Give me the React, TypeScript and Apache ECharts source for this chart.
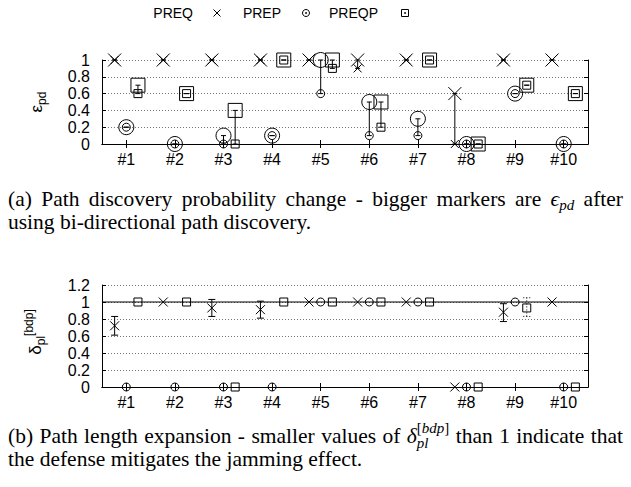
import React, { useEffect, useRef } from 'react';
import * as echarts from 'echarts';

// ---------------- data ----------------
const categories = ['#1', '#2', '#3', '#4', '#5', '#6', '#7', '#8', '#9', '#10'];
const seriesNames = ['PREQ', 'PREP', 'PREQP'];

// (a) path discovery probability eps_pd: small markers = before, big markers = after bi-directional path discovery
const pdPreqBefore = [1, 1, 1, 1, 1, 0.9, 1, 0, 1, 1];
const pdPreqAfter = [1, 1, 1, 1, 1, 1, 1, 0.6, 1, 1];
const pdPrepBefore = [0.2, 0, 0, 0.1, 0.6, 0.1, 0.1, 0, 0.6, 0];
const pdPrepAfter = [0.2, 0, 0.1, 0.1, 1, 0.5, 0.3, 0, 0.6, 0];
const pdPreqpBefore = [0.6, 0.6, 0, 1, 0.9, 0.2, 1, 0, 0.7, 0.6];
const pdPreqpAfter = [0.7, 0.6, 0.4, 1, 1, 0.5, 1, 0, 0.7, 0.6];

// (b) path length expansion delta_pl^[bdp]: value, error bar low, error bar high
const plPreq = [0.72, 1, 0.93, 0.91, 1, 1, 1, 0, 0.88, 1];
const plPreqLow = [0.61, 1, 0.83, 0.81, 1, 1, 1, 0, 0.77, 1];
const plPreqHigh = [0.83, 1, 1.03, 1.01, 1, 1, 1, 0, 0.98, 1];
const plPrep = [0, 0, 0, 0, 1, 1, 1, 0, 1, 0];
const plPreqp = [1, 1, 0, 1, 1, 1, 1, 0, 0.93, 0];
const plPreqpLow = [1, 1, 0, 1, 1, 1, 1, 0, 0.83, 0];
const plPreqpHigh = [1, 1, 0, 1, 1, 1, 1, 0, 1.05, 0];
const plReference = 1;

const pdAxis = { min: 0, max: 1, step: 0.2 };
const plAxis = { min: 0, max: 1.2, step: 0.2 };

const captionA = ['(a) Path discovery probability change - bigger markers are $EPS after', 'using bi-directional path discovery.'];
const captionB = ['(b) Path length expansion - smaller values of $DELTA than 1 indicate that', 'the defense mitigates the jamming effect.'];

// ---------------- style ----------------
type Kind = 'x' | 'circle' | 'square';
const KINDS: Kind[] = ['x', 'circle', 'square'];
const OFFSETS = [-0.24, 0, 0.24];
const SANS = '"Liberation Sans", Arial, Helvetica, sans-serif';
const SERIF = '"Liberation Serif", "Times New Roman", "DejaVu Serif", serif';
const INK = '#000';
const SMALL: Record<Kind, number> = { x: 8, circle: 8, square: 8 };
const BIG: Record<Kind, number> = { x: 13, circle: 15, square: 14 };
const PLSIZE: Record<Kind, number> = { x: 9, circle: 8, square: 8 };
const CAP = 21.5;
const CAPSUB = 15;

function markerEls(kind: Kind, cx: number, cy: number, size: number): any[] {
  const h = size / 2;
  const style = { stroke: INK, fill: 'none', lineWidth: 1 };
  if (kind === 'x')
    return [
      { type: 'line', shape: { x1: cx - h, y1: cy - h, x2: cx + h, y2: cy + h }, style },
      { type: 'line', shape: { x1: cx - h, y1: cy + h, x2: cx + h, y2: cy - h }, style },
    ];
  if (kind === 'circle') return [{ type: 'circle', shape: { cx, cy, r: h }, style }];
  return [{ type: 'rect', shape: { x: cx - h, y: cy - h, width: size, height: size }, style }];
}
const hline = (x: number, y: number, half: number, dash?: number[]) => ({
  type: 'line',
  shape: { x1: x - half, y1: y, x2: x + half, y2: y },
  style: { stroke: INK, lineWidth: 1, lineDash: dash },
});
const vline = (x: number, y1: number, y2: number, dash?: number[]) => ({
  type: 'line',
  shape: { x1: x, y1, x2: x, y2 },
  style: { stroke: INK, lineWidth: 1, lineDash: dash },
});

function pdRenderer(kind: Kind, offset: number) {
  return (params: any, api: any) => {
    const i = api.value(0);
    const ps = api.coord([i, api.value(1)]);
    const pb = api.coord([i, api.value(2)]);
    const band = api.size([1, 0])[0];
    const x = ps[0] + offset * band;
    const children: any[] = [];
    if (Math.abs(ps[1] - pb[1]) > 0.5) children.push(vline(x, ps[1], pb[1]));
    children.push(hline(x, ps[1], 2.5));
    children.push(hline(x, pb[1], 2.5));
    children.push(...markerEls(kind, x, ps[1], SMALL[kind]));
    children.push(...markerEls(kind, x, pb[1], BIG[kind]));
    return { type: 'group', children };
  };
}

function plRenderer(kind: Kind, offset: number, dotted: boolean) {
  return (params: any, api: any) => {
    const i = api.value(0);
    const pv = api.coord([i, api.value(1)]);
    const pl = api.coord([i, api.value(2)]);
    const ph = api.coord([i, api.value(3)]);
    const band = api.size([1, 0])[0];
    const x = pv[0] + offset * band;
    const dash = dotted ? [1, 2] : undefined;
    const children: any[] = [];
    if (Math.abs(pl[1] - ph[1]) > 0.5) {
      children.push(vline(x, pl[1], ph[1], dash));
      children.push(hline(x, pl[1], 3.5, dash));
      children.push(hline(x, ph[1], 3.5, dash));
    }
    children.push(...markerEls(kind, x, pv[1], PLSIZE[kind]));
    return { type: 'group', children };
  };
}

// ---------------- text layout helpers ----------------
interface Seg { text: string; size: number; font: string; italic?: boolean; dy?: number; anchor?: boolean; stack?: boolean }

function textEl(s: Seg, x: number, baseline: number, align = 'left') {
  return {
    type: 'text',
    x,
    y: baseline + (s.dy || 0) - 0.34 * s.size,
    silent: true,
    style: {
      text: s.text, fill: INK, fontSize: s.size, fontFamily: s.font, fontStyle: s.italic ? 'italic' : 'normal',
      align, verticalAlign: 'middle', textAlign: align, textVerticalAlign: 'middle',
    },
  };
}

function buildGraphic(): any[] {
  const ctx = document.createElement('canvas').getContext('2d') as CanvasRenderingContext2D;
  const measure = (s: Seg) => {
    ctx.font = `${s.italic ? 'italic ' : ''}${s.size}px ${s.font}`;
    return ctx.measureText(s.text).width;
  };
  const layout = (segs: Seg[]) => {
    let x = 0, anchor = 0, maxX = 0;
    const items = segs.map((s) => {
      if (s.anchor) anchor = x;
      if (s.stack) x = anchor;
      const it = { s, x };
      x += measure(s);
      maxX = Math.max(maxX, x);
      return it;
    });
    return { width: maxX, items };
  };

  const els: any[] = [];

  // legend
  const legendY = 13;
  const legendTextRight = [193, 281, 378];
  const legendSymbolX = [217, 306, 405];
  seriesNames.forEach((name, k) => {
    els.push(textEl({ text: name, size: 14, font: SANS }, legendTextRight[k], legendY + 0.36 * 14, 'right'));
    els.push(...markerEls(KINDS[k], legendSymbolX[k], legendY, KINDS[k] === 'x' ? 7 : 7));
    if (KINDS[k] !== 'x')
      els.push({ type: 'circle', shape: { cx: legendSymbolX[k], cy: legendY, r: 0.9 }, style: { fill: INK } });
  });

  // rotated y-axis titles
  const rotated = (gx: number, gy: number, segs: Seg[], baseline: number) => {
    const lay = layout(segs);
    const x0 = -lay.width / 2;
    return {
      type: 'group', x: gx, y: gy, rotation: Math.PI / 2, silent: true,
      children: lay.items.map((it) => textEl(it.s, x0 + it.x, baseline)),
    };
  };
  els.push(rotated(38, 102, [
    { text: 'ε', size: 17, font: SANS },
    { text: 'pd', size: 12, font: SANS, dy: 4 },
  ], 4.5));
  els.push(rotated(35, 332, [
    { text: 'δ', size: 17, font: SANS },
    { text: 'pl', size: 12, font: SANS, dy: 4 },
    { text: '[bdp]', size: 12, font: SANS, dy: -8 },
  ], 6));

  // captions
  const mathTokens: Record<string, Seg[]> = {
    $EPS: [
      { text: 'ϵ', size: CAP, font: SERIF, italic: true },
      { text: 'pd', size: CAPSUB, font: SERIF, italic: true, dy: 4 },
    ],
    $DELTA: [
      { text: 'δ', size: CAP, font: SERIF, italic: true },
      { text: 'pl', size: CAPSUB, font: SERIF, italic: true, dy: 5, anchor: true },
      { text: '[', size: CAPSUB, font: SERIF, dy: -10, stack: true },
      { text: 'bdp', size: CAPSUB, font: SERIF, italic: true, dy: -10 },
      { text: ']', size: CAPSUB, font: SERIF, dy: -10 },
    ],
  };
  const left = 8, right = 623;
  const spaceW = measure({ text: ' ', size: CAP, font: SERIF });
  const caption = (lines: string[], baselines: number[]) => {
    lines.forEach((line, li) => {
      const words = line.split(' ').map((w) => layout(mathTokens[w] || [{ text: w, size: CAP, font: SERIF }]));
      const total = words.reduce((a, w) => a + w.width, 0);
      const justify = li < lines.length - 1;
      const gap = justify ? (right - left - total) / (words.length - 1) : spaceW;
      let x = left;
      words.forEach((w) => {
        w.items.forEach((it) => els.push(textEl(it.s, x + it.x, baselines[li])));
        x += w.width + gap;
      });
    });
  };
  caption(captionA, [206, 229]);
  caption(captionB, [443, 466]);
  return els;
}

// ---------------- axes ----------------
const labelFont = { fontFamily: SANS, fontSize: 16, color: INK };
const axisLine = { show: true, lineStyle: { color: INK, width: 1 } };
const tick = { show: true, inside: true, length: 4, lineStyle: { color: INK, width: 1 } };

function xAxes(gridIndex: number) {
  const base = {
    gridIndex, type: 'category', data: categories, boundaryGap: true,
    axisLine, axisTick: { ...tick, alignWithLabel: true, interval: 0 }, splitLine: { show: false },
  };
  return [
    { ...base, position: 'bottom', axisLabel: { ...labelFont, margin: 7, interval: 0 } },
    { ...base, position: 'top', axisLabel: { show: false } },
  ];
}
function yAxes(gridIndex: number, ax: { min: number; max: number; step: number }) {
  const base = { gridIndex, type: 'value', min: ax.min, max: ax.max, interval: ax.step, axisLine, axisTick: tick };
  return [
    {
      ...base, position: 'left', axisLabel: { ...labelFont, margin: 12 },
      splitLine: { show: true, lineStyle: { color: '#777', type: [1, 2], width: 1 } },
    },
    { ...base, position: 'right', axisLabel: { show: false }, splitLine: { show: false } },
  ];
}

export default function App() {
  const ref = useRef<HTMLDivElement>(null);
  useEffect(() => {
    document.body.style.margin = '0';
    if (!ref.current) return;
    const chart = echarts.init(ref.current, undefined, { renderer: 'svg' });

    const pdSeries = [
      [pdPreqBefore, pdPreqAfter],
      [pdPrepBefore, pdPrepAfter],
      [pdPreqpBefore, pdPreqpAfter],
    ].map(([before, after], k) => ({
      type: 'custom', name: seriesNames[k], xAxisIndex: 0, yAxisIndex: 0, silent: true,
      renderItem: pdRenderer(KINDS[k], OFFSETS[k]),
      encode: { x: 0, y: [1, 2] },
      data: categories.map((_, i) => [i, before[i], after[i]]),
    }));
    const plSeries = [
      [plPreq, plPreqLow, plPreqHigh],
      [plPrep, plPrep, plPrep],
      [plPreqp, plPreqpLow, plPreqpHigh],
    ].map(([v, lo, hi], k) => ({
      type: 'custom', name: seriesNames[k], xAxisIndex: 2, yAxisIndex: 2, silent: true,
      renderItem: plRenderer(KINDS[k], OFFSETS[k], k === 2),
      encode: { x: 0, y: [1, 2, 3] },
      data: categories.map((_, i) => [i, v[i], lo[i], hi[i]]),
    }));
    const refLine = {
      type: 'custom', xAxisIndex: 2, yAxisIndex: 2, silent: true, z: 1,
      encode: { x: 0, y: 1 },
      data: [[0, plReference]],
      renderItem: (params: any, api: any) => {
        const cs = params.coordSys;
        const y = api.coord([0, api.value(1)])[1];
        return { type: 'line', shape: { x1: cs.x, y1: y, x2: cs.x + cs.width, y2: y }, style: { stroke: INK, lineWidth: 1 } };
      },
    };

    chart.setOption({
      animation: false,
      textStyle: { fontFamily: SANS },
      grid: [
        { left: 102, top: 60, width: 486, height: 84 },
        { left: 102, top: 285, width: 486, height: 102 },
      ],
      xAxis: [...xAxes(0), ...xAxes(1)],
      yAxis: [...yAxes(0, pdAxis), ...yAxes(1, plAxis)],
      series: [refLine, ...pdSeries, ...plSeries],
      graphic: buildGraphic(),
    } as any);
    return () => chart.dispose();
  }, []);
  return <div ref={ref} style={{ width: 631, height: 487 }} />;
}
